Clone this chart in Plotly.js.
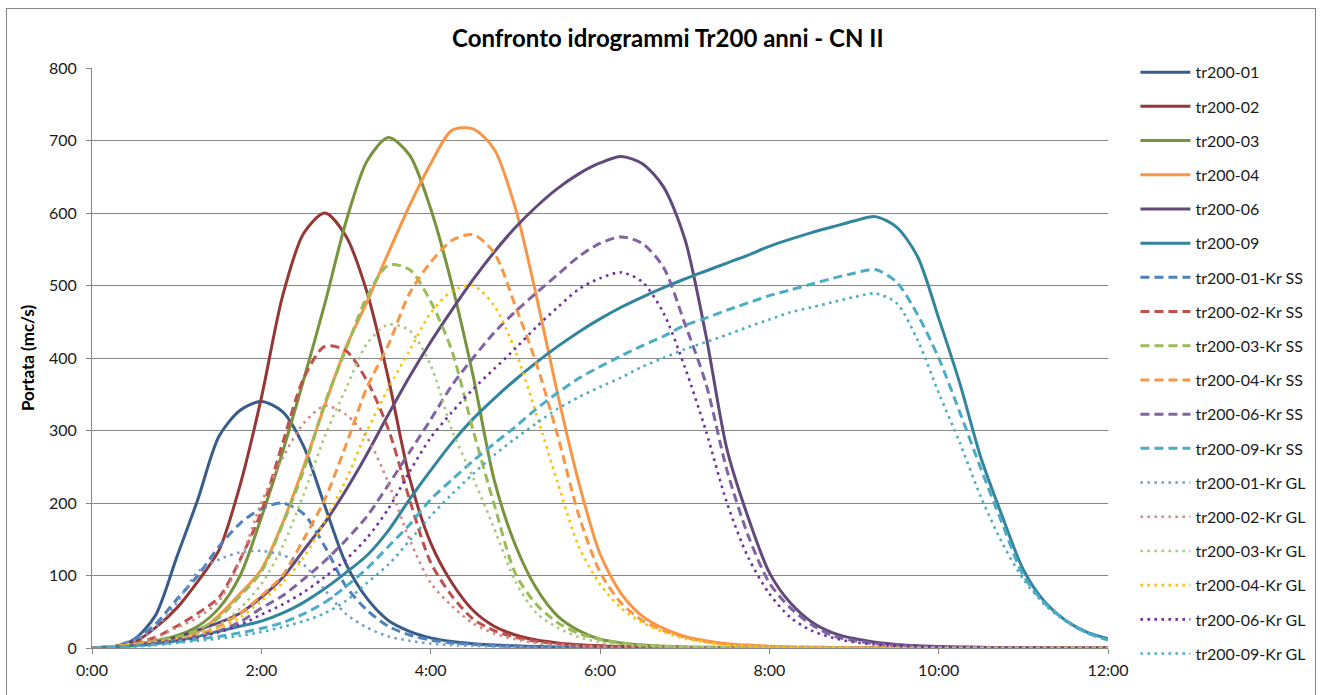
<!DOCTYPE html>
<html>
<head>
<meta charset="utf-8">
<script src="https://cdn.plot.ly/plotly-3.0.1.min.js"></script>
<style>
  html, body { margin: 0; padding: 0; background: #fff; overflow: hidden; }
  #chart { position: absolute; left: 0; top: 0; width: 1325px; height: 695px; }
  #frame { position: absolute; left: 6px; top: 8px; width: 1308px; height: 700px;
           border: 1px solid #868686; pointer-events: none; }
</style>
</head>
<body>
<div id="chart"></div>
<div id="frame"></div>
<script>
// time in hours (every 15 minutes)
const hours = [0,0.25,0.5,0.75,1,1.25,1.5,1.75,2,2.25,2.5,2.75,
  3,3.25,3.5,3.75,4,4.25,4.5,4.75,5,5.25,5.5,5.75,
  6,6.25,6.5,6.75,7,7.25,7.5,7.75,8,8.25,8.5,8.75,
  9,9.25,9.5,9.75,10,10.25,10.5,10.75,11,11.25,11.5,11.75,12];

const tickHours = [0,2,4,6,8,10,12];
const tickLabels = ['0:00','2:00','4:00','6:00','8:00','10:00','12:00'];

const seriesNames = ['tr200-01','tr200-02','tr200-03','tr200-04','tr200-06','tr200-09',
  'tr200-01-Kr SS','tr200-02-Kr SS','tr200-03-Kr SS','tr200-04-Kr SS','tr200-06-Kr SS','tr200-09-Kr SS',
  'tr200-01-Kr GL','tr200-02-Kr GL','tr200-03-Kr GL','tr200-04-Kr GL','tr200-06-Kr GL','tr200-09-Kr GL'];

const tr200_01 = [0,1,12,45,125,205,292,328,340,326,278,196,
  116,68,38,23,14,9,6,4,3,2,1.5,1.2,
  1,0.8,0.6,0.5,0.4,0.3,0.3,0.2,0.2,0.2,0.1,0.1,
  0.1,0.1,0.1,0.1,0,0,0,0,0,0,0,0,0];
const tr200_02 = [0,2,8,28,55,92,135,225,345,485,572,600,
  568,490,372,235,145,90,52,30,18,11,7,4.5,
  3,2,1.5,1,0.8,0.6,0.5,0.4,0.3,0.2,0.2,0.1,
  0.1,0.1,0.1,0,0,0,0,0,0,0,0,0,0];
const tr200_03 = [0,2,5,10,17,30,55,100,180,270,370,475,
  588,672,704,680,606,502,376,232,142,82,44,24,
  12,7,4,2.5,1.5,1,0.8,0.6,0.5,0.4,0.3,0.2,
  0.2,0.1,0.1,0.1,0.1,0,0,0,0,0,0,0,0];
const tr200_04 = [0,2,5,9,14,22,45,75,108,172,250,335,
  415,478,545,610,668,714,716,688,607,485,350,228,
  130,75,44,27,16,10,6,4,2.5,1.5,1,0.8,
  0.5,0.4,0.3,0.2,0.1,0.1,0.1,0,0,0,0,0,0];
const tr200_06 = [0,1,4,8,15,25,35,48,70,97,135,173,
  218,268,322,374,422,466,508,546,580,609,634,654,
  669,678,668,636,565,432,274,180,104,62,36,21,
  13,8,5,3,2,1.5,1,0.6,0.4,0.3,0.2,0.1,0.1];
const tr200_09 = [0,1,3,6,10,16,23,30,37,48,63,82,
  104,128,162,205,245,283,316,344,370,394,416,436,
  454,470,484,497,509,520,531,542,554,564,573,581,
  589,595,581,540,455,365,262,182,108,64,38,22,13];

const tr200_01_ss = [0,2,12,33,67,100,140,172,192,200,185,140,
  85,52,30,18,11,7,5,3,2,1.5,1,0.8,
  0.6,0.5,0.4,0.3,0.2,0.2,0.2,0.1,0.1,0.1,0.1,0.1,
  0,0,0,0,0,0,0,0,0,0,0,0,0];
const tr200_02_ss = [0,2,6,15,30,48,70,122,188,282,372,416,
  410,368,302,205,118,72,40,24,15,9,6,4,
  2.5,1.5,1,0.8,0.6,0.4,0.3,0.2,0.2,0.1,0.1,0.1,
  0.1,0,0,0,0,0,0,0,0,0,0,0,0];
const tr200_03_ss = [0,2,5,9,15,25,42,72,105,170,245,338,
  412,485,528,522,478,410,301,198,103,60,35,20,
  12,7,4,2.5,1.5,1,0.8,0.6,0.5,0.4,0.3,0.2,
  0.2,0.1,0.1,0.1,0.1,0,0,0,0,0,0,0,0];
const tr200_04_ss = [0,2,5,8,12,18,30,48,72,100,150,205,
  280,360,418,489,532,562,570,545,472,392,293,183,
  105,62,38,24,15,9,5,3,2,1.5,1,0.8,
  0.5,0.4,0.3,0.2,0.1,0.1,0.1,0,0,0,0,0,0];
const tr200_06_ss = [0,1,3,7,12,17,24,36,55,72,95,120,
  149,182,225,270,315,362,400,435,464,490,515,540,
  558,567,558,525,448,365,245,155,90,55,32,17,
  10,6,4,2.5,1.5,1,0.6,0.4,0.3,0.2,0.1,0.1,0.1];
const tr200_09_ss = [0,1,3,5,8,12,16,21,27,35,47,63,
  85,110,140,170,205,232,258,282,305,330,352,372,
  388,403,417,430,445,455,466,476,486,494,502,510,
  517,522,505,460,400,325,247,172,100,62,38,21,11];

const tr200_01_gl = [0,2,10,28,62,105,122,132,134,128,115,80,
  47,28,16,10,6,4,3,2,1.5,1,0.8,0.6,
  0.5,0.4,0.3,0.2,0.2,0.1,0.1,0.1,0.1,0,0,0,
  0,0,0,0,0,0,0,0,0,0,0,0,0];
const tr200_02_gl = [0,2,6,14,28,42,65,120,200,262,310,334,
  322,290,228,150,90,58,34,20,12,7,4.5,3,
  2,1.3,0.9,0.6,0.4,0.3,0.2,0.2,0.1,0.1,0.1,0.1,
  0,0,0,0,0,0,0,0,0,0,0,0,0];
const tr200_03_gl = [0,2,5,8,13,20,32,55,88,140,212,292,
  358,420,446,438,390,301,235,165,92,48,28,15,
  8,5,3,2,1.5,1,0.8,0.6,0.4,0.3,0.2,0.2,
  0.1,0.1,0.1,0,0,0,0,0,0,0,0,0,0];
const tr200_04_gl = [0,2,5,8,12,17,27,42,65,90,125,175,
  232,300,358,410,462,492,500,472,410,322,228,140,
  88,55,35,22,13,8,4,2.5,1.5,1,0.8,0.6,
  0.4,0.3,0.2,0.1,0.1,0.1,0,0,0,0,0,0,0];
const tr200_06_gl = [0,1,3,6,10,15,22,32,46,60,77,98,
  122,152,192,243,290,325,357,385,413,443,470,495,
  510,518,505,462,388,300,200,125,75,42,24,14,
  8,5,3,2,1,0.7,0.5,0.3,0.2,0.1,0.1,0.1,0];
const tr200_09_gl = [0,1,2,4,7,10,13,17,22,29,37,48,
  65,90,115,148,182,212,240,266,289,310,330,346,
  360,373,388,400,412,422,432,443,453,463,470,477,
  484,489,476,425,352,283,208,145,95,60,37,21,11];

const seriesValues = [tr200_01,tr200_02,tr200_03,tr200_04,tr200_06,tr200_09,
  tr200_01_ss,tr200_02_ss,tr200_03_ss,tr200_04_ss,tr200_06_ss,tr200_09_ss,
  tr200_01_gl,tr200_02_gl,tr200_03_gl,tr200_04_gl,tr200_06_gl,tr200_09_gl];

const seriesColors = ['#385D8A','#953735','#77933C','#F79646','#604A7B','#31859C',
  '#4F81BD','#C0504D','#9BBB59','#F79646','#8064A2','#4BACC6',
  '#7A9BD1','#D38884','#A9C97A','#FFC000','#7030A0','#4BACC6'];

const FONT = 'Lato, "Open Sans", "Liberation Sans", sans-serif';

const traces = seriesNames.map((name, i) => {
  const kind = i < 6 ? 'solid' : (i < 12 ? 'dash' : 'dot');
  return {
    type: 'scatter',
    mode: 'lines',
    name: name,
    x: hours,
    y: seriesValues[i],
    legendgroup: 'g' + i,
    line: {
      color: seriesColors[i],
      width: kind === 'dot' ? 2.6 : 3,
      shape: 'spline',
      smoothing: 0.8,
      dash: kind === 'solid' ? 'solid' : (kind === 'dash' ? '9px,5px' : '2.6px,4.4px')
    },
    hoverinfo: 'skip'
  };
});

const layout = {
  width: 1325,
  height: 695,
  margin: {l: 92, r: 217, t: 68, b: 47},
  paper_bgcolor: '#ffffff',
  plot_bgcolor: '#ffffff',
  font: {family: FONT, size: 16, color: '#1a1a1a'},
  title: {
    text: '<b>Confronto idrogrammi Tr200 anni - CN II</b>',
    font: {family: FONT, size: 24, color: '#000'},
    xref: 'container', x: 0.504, xanchor: 'center',
    yref: 'container', y: 0.944, yanchor: 'middle'
  },
  xaxis: {
    range: [0, 12],
    tickmode: 'array',
    tickvals: tickHours,
    ticktext: tickLabels,
    showgrid: false,
    zeroline: false,
    showline: true,
    linecolor: '#868686',
    linewidth: 1,
    ticks: 'outside',
    ticklen: 5,
    tickcolor: '#868686',
    tickfont: {family: FONT, size: 16, color: '#1a1a1a'},
    ticklabelstandoff: 3,
    fixedrange: true
  },
  yaxis: {
    range: [0, 800],
    tickmode: 'linear',
    tick0: 0,
    dtick: 100,
    showgrid: true,
    gridcolor: '#868686',
    gridwidth: 1,
    zeroline: false,
    showline: true,
    linecolor: '#868686',
    ticks: 'outside',
    ticklen: 5,
    tickcolor: '#868686',
    tickfont: {family: FONT, size: 16, color: '#1a1a1a'},
    ticklabelstandoff: 6,
    title: {
      text: '<b>Portata (mc/s)</b>',
      font: {family: FONT, size: 17, color: '#000'},
      standoff: 10
    },
    fixedrange: true
  },
  legend: {
    x: 1.027, xanchor: 'left',
    y: 1.022, yanchor: 'top',
    font: {family: FONT, size: 16, color: '#1a1a1a'},
    tracegroupgap: 10.4,
    itemwidth: 50,
    maxheight: 690,
    bgcolor: 'rgba(0,0,0,0)',
    borderwidth: 0
  },
  showlegend: true,
  hovermode: false
};

Plotly.newPlot('chart', traces, layout, {displayModeBar: false, staticPlot: true});
</script>
</body>
</html>
